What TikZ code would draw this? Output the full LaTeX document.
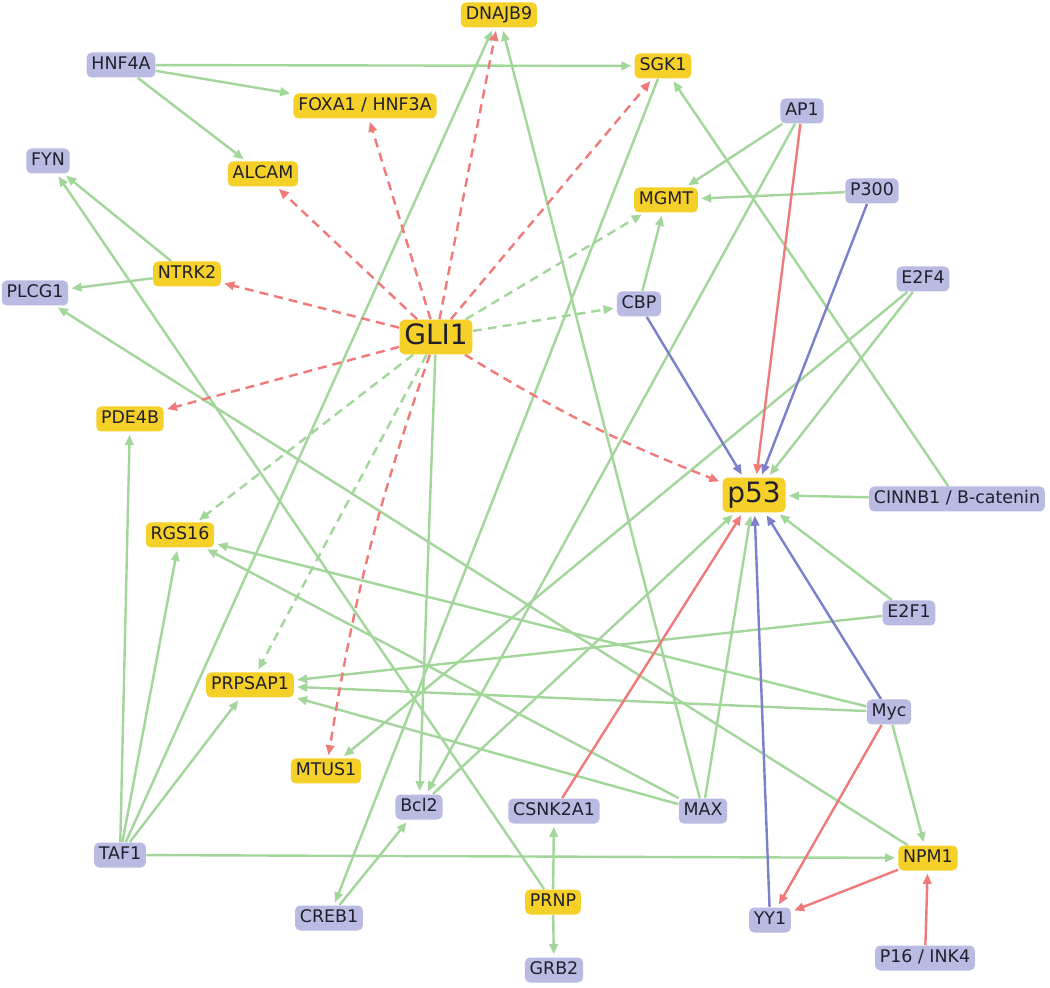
\documentclass[tikz,border=0pt]{standalone}
\usepackage{fontspec}
\setmainfont{DejaVu Sans}
\usetikzlibrary{arrows.meta,backgrounds}
\definecolor{yel}{HTML}{F5D028}
\definecolor{lav}{HTML}{B9BBE2}
\definecolor{ge}{HTML}{A3D69A}
\definecolor{re}{HTML}{F07A7A}
\definecolor{be}{HTML}{7C80CC}
\definecolor{txt}{HTML}{20202C}
\tikzset{
  base/.style={rounded corners=2.5pt, inner xsep=2.4pt, inner ysep=2pt, text=txt,
    font=\fontsize{8.7}{10}\selectfont, text height=6.5pt, text depth=1.7pt, minimum height=12.5pt},
  gene/.style={base, fill=yel},
  prot/.style={base, fill=lav},
  big/.style={font=\fontsize{14}{16}\selectfont, text height=10.3pt, text depth=3pt},
  edge/.style={line width=1.2pt, -{Triangle[length=5pt,width=4.2pt]}, shorten >=1.5pt},
  gs/.style={edge, draw=ge},
  gd/.style={edge, draw=ge, dash pattern=on 4.5pt off 3pt},
  rs/.style={edge, draw=re},
  rd/.style={edge, draw=re, dash pattern=on 4.5pt off 3pt},
  bs/.style={edge, draw=be}
}
\begin{document}
\begin{tikzpicture}[x=0.5pt,y=-0.5pt]
\useasboundingbox (0,0) rectangle (1050,988);
% nodes
\node[gene] (dnajb9) at (499,15) {DNAJB9};
\node[prot] (hnf4a) at (121,65) {HNF4A};
\node[gene] (sgk1) at (663,66) {SGK1};
\node[gene] (foxa1) at (365,106) {FOXA1 / HNF3A};
\node[prot] (ap1) at (802,111) {AP1};
\node[prot] (fyn) at (48,161) {FYN};
\node[gene] (alcam) at (263,174) {ALCAM};
\node[gene] (mgmt) at (666,200) {MGMT};
\node[prot] (p300) at (872,191) {P300};
\node[gene] (ntrk2) at (187,274) {NTRK2};
\node[prot] (plcg1) at (35,293) {PLCG1};
\node[prot] (e2f4) at (923,279) {E2F4};
\node[prot] (cbp) at (639,304) {CBP};
\node[gene,big] (gli1) at (436,337) {GLI1};
\node[gene] (pde4b) at (130,419) {PDE4B};
\node[gene,big] (p53) at (754,495) {p53};
\node[prot] (cinnb1) at (957,499) {CINNB1 / B-catenin};
\node[gene] (rgs16) at (180,535) {RGS16};
\node[prot] (e2f1) at (909,613) {E2F1};
\node[gene] (prpsap1) at (250,685) {PRPSAP1};
\node[prot] (myc) at (889,712) {Myc};
\node[gene] (mtus1) at (326,771) {MTUS1};
\node[prot] (bcl2) at (419,807) {Bcl2};
\node[prot] (csnk2a1) at (554,811) {CSNK2A1};
\node[prot] (max) at (703,811) {MAX};
\node[prot] (taf1) at (120,855) {TAF1};
\node[gene] (npm1) at (928,858) {NPM1};
\node[prot] (creb1) at (329,918) {CREB1};
\node[gene] (prnp) at (553,902) {PRNP};
\node[prot] (yy1) at (770,920) {YY1};
\node[prot] (grb2) at (554,970) {GRB2};
\node[prot] (p16) at (925,958) {P16 / INK4};
\begin{pgfonlayer}{background}
\fill[white] (0,0) rectangle (1050,988);
% green solid
\draw[gs] (hnf4a) -- (sgk1);
\draw[gs] (hnf4a) -- (foxa1);
\draw[gs] (hnf4a) -- (alcam);
\draw[gs] (ntrk2) -- (fyn);
\draw[gs] (ntrk2) -- (plcg1);
\draw[gs] (prnp) -- (fyn);
\draw[gs] (npm1) -- (plcg1);
\draw[gs] (taf1) -- (pde4b);
\draw[gs] (taf1) -- (rgs16);
\draw[gs] (taf1) -- (prpsap1);
\draw[gs] (taf1) -- (dnajb9);
\draw[gs] (taf1) -- (npm1);
\draw[gs] (sgk1) -- (creb1);
\draw[gs] (creb1) -- (bcl2);
\draw[gs] (gli1) -- (bcl2);
\draw[gs] (ap1) -- (bcl2);
\draw[gs] (e2f4) -- (mtus1);
\draw[gs] (e2f4) -- (p53);
\draw[gs] (bcl2) -- (p53);
\draw[gs] (max) -- (p53);
\draw[gs] (max) -- (dnajb9);
\draw[gs] (max) -- (rgs16);
\draw[gs] (max) -- (prpsap1);
\draw[gs] (myc) -- (rgs16);
\draw[gs] (myc) -- (prpsap1);
\draw[gs] (e2f1) -- (prpsap1);
\draw[gs] (e2f1) -- (p53);
\draw[gs] (cinnb1) -- (p53);
\draw[gs] (cinnb1) -- (sgk1);
\draw[gs] (cbp) -- (mgmt);
\draw[gs] (p300) -- (mgmt);
\draw[gs] (ap1) -- (mgmt);
\draw[gs] (myc) -- (npm1);
\draw[gs] (prnp) -- (csnk2a1);
\draw[gs] (prnp) -- (grb2);
% green dashed
\draw[gd] (gli1) -- (mgmt);
\draw[gd] (gli1) -- (cbp);
\draw[gd] (gli1) -- (rgs16);
\draw[gd] (gli1) -- (prpsap1);
% red dashed
\draw[rd] (gli1) -- (dnajb9);
\draw[rd] (gli1) -- (foxa1);
\draw[rd] (gli1) -- (alcam);
\draw[rd] (gli1) -- (sgk1);
\draw[rd] (gli1) -- (ntrk2);
\draw[rd] (gli1) -- (pde4b);
\draw[rd] (gli1) to[bend right=5] (mtus1);
\draw[rd] (gli1) to[bend right=5] (p53);
% red solid
\draw[rs] (ap1) -- (p53);
\draw[rs] (csnk2a1) -- (p53);
\draw[rs] (myc) -- (yy1);
\draw[rs] (npm1) -- (yy1);
\draw[rs] (p16) -- (npm1);
% blue solid
\draw[bs] (cbp) -- (p53);
\draw[bs] (p300) -- (p53);
\draw[bs] (myc) -- (p53);
\draw[bs] (yy1) -- (p53);
\end{pgfonlayer}
\end{tikzpicture}
\end{document}
